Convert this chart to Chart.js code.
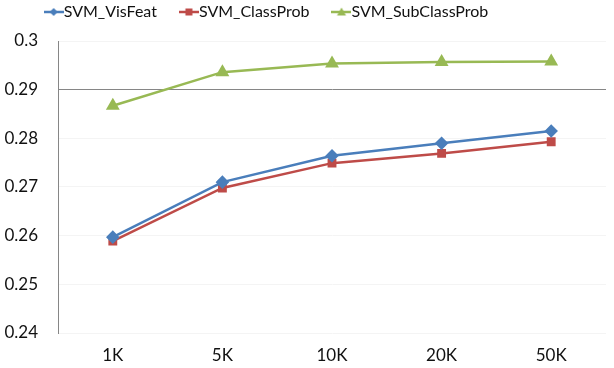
<!DOCTYPE html>
<html>
<head>
<meta charset="utf-8">
<script src="https://cdn.jsdelivr.net/npm/chart.js@4/dist/chart.umd.min.js"></script>
<style>
html,body{margin:0;padding:0;background:#fff;}
#wrap{width:614px;height:368px;position:relative;}
</style>
</head>
<body>
<div id="wrap"><canvas id="c" width="614" height="368"></canvas></div>
<script>
const categories = ['1K', '5K', '10K', '20K', '50K'];
const svmVisFeat = [0.2597, 0.2710, 0.2764, 0.2790, 0.2815];
const svmClassProb = [0.2589, 0.2698, 0.2749, 0.2769, 0.2793];
const svmSubClassProb = [0.2867, 0.2936, 0.2954, 0.2957, 0.2958];
const seriesNames = ['SVM_VisFeat', 'SVM_ClassProb', 'SVM_SubClassProb'];
const yMin = 0.24, yMax = 0.3, yStep = 0.01;

const BLUE = '#4A7EBB', RED = '#BE4B48', GREEN = '#98B954';

function legendIcon(color, shape) {
  const c = document.createElement('canvas');
  c.width = 20; c.height = 12;
  const g = c.getContext('2d');
  g.strokeStyle = color; g.lineWidth = 2.5;
  g.beginPath(); g.moveTo(0, 6); g.lineTo(20, 6); g.stroke();
  g.fillStyle = color;
  g.beginPath();
  if (shape === 'rectRot') { g.moveTo(10, 2); g.lineTo(14, 6); g.lineTo(10, 10); g.lineTo(6, 6); }
  else if (shape === 'rect') { g.rect(6.5, 2.5, 7, 7); }
  else { g.moveTo(10, 1.5); g.lineTo(14.5, 9.5); g.lineTo(5.5, 9.5); }
  g.closePath(); g.fill();
  return c;
}

const icons = [legendIcon(BLUE, 'rectRot'), legendIcon(RED, 'rect'), legendIcon(GREEN, 'triangle')];

const layoutFix = {
  id: 'layoutFix',
  beforeLayout(chart) {
    const lg = chart.legend;
    if (lg && !lg._patched) {
      const orig = lg.fit;
      lg.fit = function () { orig.call(this); this.height = 41; };
      lg._patched = true;
    }
  },
  afterLayout(chart) {
    const lg = chart.legend;
    if (lg) { lg.left = 0; lg.right = 540; lg.top = -26; lg.bottom = 41; }
  }
};

new Chart(document.getElementById('c'), {
  type: 'line',
  data: {
    labels: categories,
    datasets: [
      { label: seriesNames[0], data: svmVisFeat, borderColor: BLUE, backgroundColor: BLUE, pointStyle: 'rectRot', pointRadius: 5, borderWidth: 2.5, tension: 0 },
      { label: seriesNames[1], data: svmClassProb, borderColor: RED, backgroundColor: RED, pointStyle: 'rect', pointRadius: 4.5, borderWidth: 2.5, tension: 0 },
      { label: seriesNames[2], data: svmSubClassProb, borderColor: GREEN, backgroundColor: GREEN, pointStyle: 'triangle', pointRadius: 5.5, borderWidth: 2.5, tension: 0 }
    ]
  },
  options: {
    responsive: false,
    animation: false,
    devicePixelRatio: 1,
    layout: { padding: { left: 0, right: 1, top: 0, bottom: 0 } },
    plugins: {
      tooltip: { enabled: false },
      legend: {
        position: 'top',
        align: 'center',
        labels: {
          usePointStyle: true,
          pointStyleWidth: 4,
          padding: 30,
          color: '#111',
          font: { family: 'Lato', size: 16 },
          generateLabels(chart) {
            return chart.data.datasets.map((d, i) => ({
              text: d.label, pointStyle: icons[i], fillStyle: d.borderColor,
              strokeStyle: d.borderColor, lineWidth: 0, hidden: false, datasetIndex: i, fontColor: '#111'
            }));
          }
        }
      }
    },
    scales: {
      x: {
        offset: true,
        grid: { display: false, drawTicks: false },
        border: { display: false },
        ticks: { color: '#111', padding: 12, font: { family: 'Lato', size: 17 } },
        afterFit(s) { s.height = 35; }
      },
      y: {
        min: yMin, max: yMax,
        grid: {
          drawTicks: false,
          color: (ctx) => (ctx.tick && Math.abs(ctx.tick.value - 0.29) < 1e-6) ? '#868686' : '#F4F4F4',
          lineWidth: 1
        },
        border: { display: true, color: '#868686', width: 1 },
        ticks: {
          stepSize: yStep, color: '#111', padding: 20,
          font: { family: 'Lato', size: 17 },
          callback: (v) => String(+v.toFixed(2))
        },
        afterFit(s) { s.width = 58; }
      }
    }
  },
  plugins: [layoutFix]
});
</script>
</body>
</html>
